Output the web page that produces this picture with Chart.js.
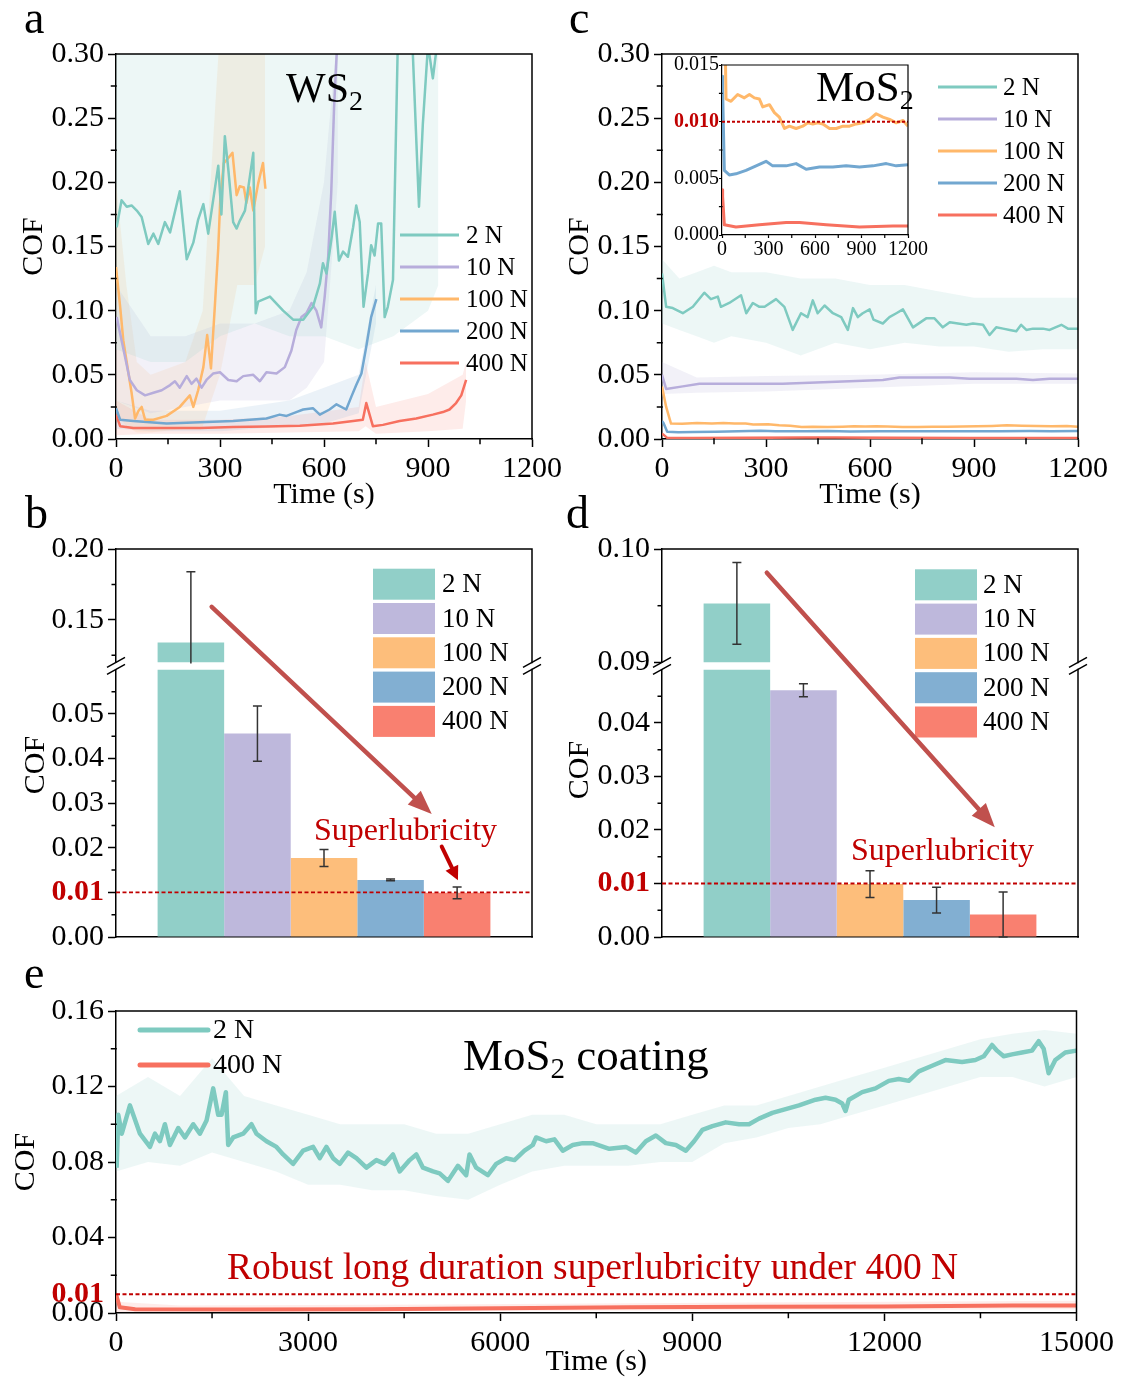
<!DOCTYPE html>
<html><head><meta charset="utf-8">
<script src="https://cdn.jsdelivr.net/npm/chart.js@4.4.1/dist/chart.umd.min.js"></script>
<style>
html,body{margin:0;padding:0;background:#fff;}
#fig{position:relative;width:1126px;height:1383px;overflow:hidden;font-family:'Liberation Serif','Times New Roman',Times,serif;background:#fff;}
canvas{position:absolute;}
.txt{position:absolute;white-space:nowrap;line-height:1;color:#000;}
.red{color:#c00000;}
.sub{position:relative;vertical-align:baseline;line-height:1;}
</style></head><body><div id="fig">
<canvas id="ca" width="572" height="487" style="left:0px;top:32px"></canvas>
<canvas id="cc" width="572" height="487" style="left:546px;top:32px"></canvas>
<canvas id="ci" width="266" height="212" style="left:667px;top:51px"></canvas>
<canvas id="cb" width="552" height="440" style="left:0px;top:527px"></canvas>
<canvas id="cd" width="552" height="440" style="left:546px;top:527px"></canvas>
<canvas id="ce" width="1118" height="394" style="left:0px;top:989px"></canvas>

<div class="txt" style="left:24px;top:-5px;font-size:46px">a</div>
<div class="txt" style="left:25px;top:490px;font-size:46px">b</div>
<div class="txt" style="left:569px;top:-5px;font-size:46px">c</div>
<div class="txt" style="left:566px;top:490px;font-size:46px">d</div>
<div class="txt" style="left:24px;top:950px;font-size:46px">e</div>
<div class="txt" style="left:286px;top:67px;font-size:42px">WS<span class="sub" style="font-size:28px;top:8px">2</span></div>
<div class="txt" style="left:816px;top:65px;font-size:43px">MoS<span class="sub" style="font-size:28px;top:8px">2</span></div>
<div class="txt" style="left:463px;top:1033px;font-size:45px">MoS<span class="sub" style="font-size:29px;top:8px">2</span> coating</div>
<div class="txt red" style="left:314px;top:813px;font-size:32px">Superlubricity</div>
<div class="txt red" style="left:851px;top:833px;font-size:32px">Superlubricity</div>
<div class="txt red" style="left:227px;top:1248px;font-size:37.5px">Robust long duration superlubricity under 400 N</div>
</div>
<script>
// ================= DATA =================
const loads = ['2 N','10 N','100 N','200 N','400 N'];
const superLimit = 0.01;

// (a) WS2 friction curves
const aT_2N = [2,16,31,45,60,74,93,108,122,141,156,184,204,223,237,252,266,295,304,314,324,338,348,357,372,396,403,410,444,482,511,540,568,588,597,607,621,631,643,655,669,684,693,703,714,727,736,746,756,765,775,784,799,813,837,856,874,885,900,914,925];
const aY_2N = [0.165,0.186,0.181,0.182,0.178,0.173,0.152,0.160,0.152,0.169,0.161,0.193,0.140,0.153,0.171,0.183,0.160,0.213,0.175,0.236,0.210,0.169,0.164,0.170,0.178,0.223,0.098,0.107,0.111,0.100,0.093,0.093,0.103,0.121,0.137,0.129,0.155,0.177,0.139,0.146,0.142,0.165,0.182,0.169,0.103,0.129,0.151,0.143,0.168,0.168,0.095,0.103,0.124,0.310,0.336,0.302,0.181,0.245,0.307,0.281,0.305];
const aT_10N = [2,12,26,40,60,84,108,132,156,170,184,204,218,232,247,261,280,300,324,348,367,396,415,434,463,487,506,520,535,549,564,578,592,602,612,621,629,636,643];
const aY_10N = [0.095,0.082,0.064,0.046,0.038,0.034,0.036,0.038,0.042,0.045,0.040,0.049,0.043,0.047,0.040,0.046,0.051,0.052,0.046,0.045,0.049,0.050,0.045,0.052,0.051,0.056,0.069,0.085,0.095,0.098,0.106,0.100,0.087,0.111,0.142,0.193,0.258,0.297,0.325];
const aT_100N = [0,12,21,36,45,55,65,74,84,108,146,184,213,223,237,252,263,274,285,295,301,311,324,336,348,357,369,376,386,396,410,424,431];
const aY_100N = [0.134,0.103,0.077,0.051,0.036,0.016,0.022,0.025,0.015,0.015,0.018,0.025,0.034,0.025,0.038,0.056,0.081,0.055,0.103,0.149,0.188,0.215,0.219,0.223,0.190,0.197,0.196,0.184,0.196,0.178,0.199,0.215,0.195];
const aT_200N = [0,12,50,146,242,338,386,434,472,492,520,540,568,588,616,636,664,679,693,708,722,736,751];
const aY_200N = [0.024,0.015,0.014,0.012,0.013,0.014,0.015,0.016,0.019,0.018,0.021,0.023,0.024,0.019,0.023,0.027,0.023,0.033,0.042,0.051,0.072,0.095,0.109];
const aT_400N = [0,12,50,146,242,338,434,530,626,684,712,722,741,770,818,866,914,943,962,981,996,1010];
const aY_400N = [0.019,0.010,0.0085,0.0085,0.0085,0.0093,0.0098,0.0103,0.012,0.014,0.015,0.028,0.010,0.011,0.014,0.016,0.019,0.021,0.023,0.028,0.034,0.046];
// (a) raw-data envelopes
const aBandT_2N = [0,100,200,300,400,500,600,700,800,900,930];
const aBandHi_2N = [0.32,0.32,0.32,0.32,0.32,0.32,0.32,0.32,0.32,0.32,0.32];
const aBandLo_2N = [0.07,0.06,0.06,0.08,0.09,0.08,0.08,0.07,0.08,0.10,0.12];
const aBandT_10N = [0,100,200,300,400,500,550,600,640];
const aBandHi_10N = [0.12,0.08,0.08,0.09,0.09,0.10,0.13,0.20,0.32];
const aBandLo_10N = [0.03,0.02,0.025,0.03,0.03,0.03,0.04,0.06,0.20];
const aBandT_100N = [0,30,60,100,200,250,300,350,400,430];
const aBandHi_100N = [0.20,0.12,0.06,0.05,0.06,0.10,0.32,0.32,0.32,0.32];
const aBandLo_100N = [0.02,0.01,0.005,0.005,0.008,0.01,0.05,0.12,0.12,0.15];
const aBandT_200N = [0,100,300,500,600,700,750];
const aBandHi_200N = [0.03,0.022,0.022,0.03,0.04,0.05,0.12];
const aBandLo_200N = [0.008,0.006,0.006,0.01,0.012,0.02,0.09];
const aBandT_400N = [0,100,300,500,700,720,750,900,1000,1010];
const aBandHi_400N = [0.03,0.015,0.015,0.018,0.025,0.06,0.025,0.035,0.05,0.06];
const aBandLo_400N = [0.003,0.004,0.004,0.005,0.006,0.01,0.004,0.006,0.008,0.03];

// (c) MoS2 friction curves (main plot and inset share these)
const cT_2N = [0,12,31,60,89,122,141,161,170,194,228,243,262,281,296,329,353,377,401,420,435,449,469,493,517,536,551,565,579,599,610,637,656,676,695,724,762,786,810,830,854,878,897,926,945,964,984,1003,1022,1036,1051,1070,1099,1118,1152,1171,1200];
const cY_2N = [0.129,0.103,0.102,0.098,0.103,0.114,0.109,0.111,0.103,0.106,0.112,0.098,0.106,0.103,0.103,0.109,0.103,0.085,0.098,0.095,0.108,0.098,0.104,0.098,0.095,0.085,0.102,0.095,0.098,0.101,0.093,0.090,0.095,0.098,0.101,0.087,0.094,0.094,0.087,0.091,0.090,0.089,0.090,0.089,0.081,0.087,0.086,0.085,0.084,0.089,0.085,0.086,0.086,0.085,0.089,0.086,0.086];
const cT_10N = [0,12,60,108,156,252,348,445,541,637,685,733,830,887,926,974,1022,1070,1118,1200];
const cY_10N = [0.050,0.039,0.041,0.043,0.043,0.043,0.043,0.044,0.045,0.046,0.048,0.048,0.048,0.047,0.047,0.047,0.047,0.046,0.047,0.047];
const cT_100N = [0,12,26,58,101,144,177,209,241,263,306,338,370,403,435,478,521,554,586,618,650,694,737,780,823,866,909,952,995,1038,1081,1124,1168,1200];
const cY_100N = [0.041,0.025,0.0120,0.0118,0.0124,0.0121,0.0124,0.0121,0.0120,0.0113,0.0115,0.0108,0.0104,0.0094,0.0096,0.0094,0.0096,0.0099,0.0098,0.0099,0.0098,0.0094,0.0094,0.0096,0.0096,0.0098,0.0099,0.0102,0.0107,0.0104,0.0102,0.0099,0.0101,0.0096];
const cT_200N = [0,4,15,47,90,155,220,284,327,414,478,543,629,715,801,887,974,1060,1124,1200];
const cY_200N = [0.014,0.0127,0.0057,0.0053,0.0054,0.0057,0.0061,0.0065,0.0061,0.0061,0.0063,0.0058,0.0060,0.0060,0.0061,0.0060,0.0061,0.0063,0.0061,0.0062];
const cT_400N = [0,4,15,90,241,414,500,672,887,1103,1200];
const cY_400N = [0.004,0.0034,0.0009,0.0007,0.0009,0.0011,0.0011,0.0009,0.0007,0.0008,0.0008];
const cBandT_2N = [0,50,100,150,200,300,400,500,600,700,800,900,1000,1100,1200];
const cBandHi_2N = [0.14,0.125,0.13,0.135,0.13,0.13,0.125,0.125,0.12,0.12,0.115,0.11,0.11,0.11,0.11];
const cBandLo_2N = [0.09,0.085,0.08,0.075,0.08,0.075,0.065,0.075,0.07,0.075,0.072,0.072,0.068,0.07,0.07];
const cBandT_10N = [0,100,300,600,900,1200];
const cBandHi_10N = [0.06,0.048,0.049,0.05,0.052,0.051];
const cBandLo_10N = [0.035,0.036,0.037,0.04,0.043,0.043];

// (b) WS2 mean COF and (d) MoS2 mean COF with error
const wsMean = [0.134,0.0456,0.0177,0.0128,0.0099];
const wsErr  = [0.050,0.0062,0.0019,0.0002,0.0013];
const mosMean = [0.0952,0.0461,0.0099,0.0069,0.0042];
const mosErr  = [0.0036,0.0012,0.0025,0.0024,0.0042];

// (e) long-duration MoS2 coating
const eT_2N = [10,36,90,218,374,530,608,686,764,842,972,1076,1206,1310,1414,1518,1596,1648,1716,1752,1830,1986,2116,2194,2350,2506,2610,2766,2922,3078,3182,3286,3390,3494,3624,3754,3910,4066,4196,4326,4430,4586,4690,4794,4950,5054,5184,5340,5469,5521,5625,5807,5937,6093,6223,6379,6509,6561,6717,6847,6977,7133,7289,7443,7703,7963,8119,8275,8431,8587,8743,8899,9028,9158,9314,9522,9730,9886,10042,10250,10458,10666,10925,11081,11237,11341,11393,11445,11653,11861,12069,12225,12381,12537,12745,12953,13213,13421,13551,13681,13759,13863,13993,14149,14305,14409,14487,14565,14669,14825,15000];
const eY_2N = [0.077,0.105,0.095,0.110,0.095,0.088,0.095,0.091,0.100,0.089,0.098,0.093,0.100,0.095,0.102,0.119,0.105,0.105,0.117,0.089,0.093,0.095,0.100,0.095,0.091,0.088,0.084,0.079,0.086,0.088,0.082,0.088,0.082,0.079,0.085,0.082,0.077,0.081,0.079,0.084,0.075,0.081,0.084,0.077,0.075,0.074,0.070,0.078,0.073,0.084,0.077,0.073,0.079,0.082,0.081,0.086,0.089,0.093,0.091,0.092,0.086,0.089,0.090,0.090,0.087,0.088,0.085,0.091,0.094,0.090,0.089,0.086,0.091,0.097,0.099,0.101,0.100,0.100,0.103,0.106,0.108,0.110,0.113,0.114,0.113,0.111,0.107,0.113,0.117,0.119,0.123,0.124,0.123,0.128,0.131,0.134,0.133,0.134,0.136,0.142,0.139,0.136,0.137,0.138,0.139,0.144,0.140,0.127,0.134,0.138,0.139];
const eT_400N = [0,60,300,2000,4000,6000,8000,10000,12000,14000,15000];
const eY_400N = [0.010,0.003,0.002,0.0018,0.002,0.0025,0.003,0.0033,0.0035,0.004,0.004];
const eBandT_2N = [0,500,1000,1500,2000,2500,3000,3500,4000,4500,5000,5500,6000,6500,7000,7500,8000,8500,9000,9500,10000,10500,11000,11500,12000,12500,13000,13500,14000,14500,15000];
const eBandHi_2N = [0.115,0.125,0.115,0.135,0.115,0.11,0.105,0.10,0.10,0.10,0.095,0.095,0.10,0.105,0.105,0.10,0.10,0.10,0.105,0.11,0.11,0.115,0.12,0.125,0.13,0.135,0.14,0.145,0.148,0.15,0.148];
const eBandLo_2N = [0.075,0.08,0.078,0.085,0.08,0.075,0.068,0.068,0.065,0.065,0.062,0.06,0.068,0.075,0.078,0.078,0.078,0.08,0.08,0.09,0.093,0.098,0.1,0.105,0.11,0.115,0.12,0.125,0.125,0.12,0.125];
const eBandT_400N = [0,1000,5000,10000,15000];
const eBandHi_400N = [0.006,0.004,0.0045,0.0055,0.0065];
const eBandLo_400N = [0.0005,0.0005,0.001,0.0015,0.002];

// tick values
const tXTicks = [0,300,600,900,1200];
const tXMinor = [150,450,750,1050];
const aYTicks = [0,0.05,0.10,0.15,0.20,0.25,0.30];
const aYMinor = [0.025,0.075,0.125,0.175,0.225,0.275];
const insYTicks = [0,0.005,0.010,0.015];
const insYMinor = [0.0025,0.0075,0.0125];
const bLoTicks = [0,0.01,0.02,0.03,0.04,0.05];
const bLoMinor = [0.005,0.015,0.025,0.035,0.045,0.055];
const bHiTicks = [0.15,0.20];
const bHiMinor = [0.125,0.175];
const dLoTicks = [0,0.01,0.02,0.03,0.04];
const dLoMinor = [0.005,0.015,0.025,0.035,0.045];
const dHiTicks = [0.09,0.10];
const dHiMinor = [0.095];
const eXTicks = [0,3000,6000,9000,12000,15000];
const eXMinor = [1500,4500,7500,10500,13500];
const eYTicks = [0,0.01,0.04,0.08,0.12,0.16];
const eYMinor = [0.02,0.06,0.10,0.14];

// ================= STYLE / HELPERS =================
const FONT = "'Liberation Serif','Times New Roman',Times,serif";
Chart.defaults.font.family = FONT;
Chart.defaults.color = '#000';
Chart.defaults.animation = false;
const RED = '#c00000';
const lineCol = ['#7ecac0','#b7addb','#ffb86a','#72a7d0','#f7705f'];
const bandCol = ['rgba(142,207,201,0.16)','rgba(190,184,220,0.2)','rgba(255,190,122,0.17)','rgba(130,176,210,0.16)','rgba(250,127,111,0.15)'];
const barCol = ['#91cfc8','#beb8dc','#fdbe7b','#82afd2','#f98070'];
const isRef = v => Math.abs(v - superLimit) < 1e-9;
const f2 = v => v.toFixed(2), f3 = v => v.toFixed(3), fi = v => String(v);

function linAxis(o) {
  return {
    type:'linear', position:o.pos, min:o.min, max:o.max, bounds:'data',
    afterBuildTicks: s => { s.ticks = o.ticks.map(v => ({value:v})); },
    afterFit: s => { if (o.pos === 'left') s.width = o.size; else s.height = o.size; },
    ticks: {
      autoSkip:false, maxRotation:0, padding:(o.pad !== undefined ? o.pad : 4), callback:o.fmt,
      font: o.refBold ? (c => ({size:o.fs, weight:(c.tick && isRef(c.tick.value)) ? 'bold' : 'normal'})) : {size:o.fs},
      color: o.refBold ? (c => (c.tick && isRef(c.tick.value)) ? RED : '#000') : '#000'
    },
    grid: {
      display:true, drawOnChartArea:false, drawTicks:true, tickLength:o.tl || 8, tickWidth:o.bw || 1.5,
      tickColor: o.hideRefTick ? (c => (c.tick && isRef(c.tick.value)) ? 'rgba(0,0,0,0)' : '#000') : '#000'
    },
    border: {display:true, color:'#000', width:o.bw || 1.5},
    title: o.title ? {display:true, text:o.title, color:'#000', font:{size:o.tfs || 30}, padding:o.tpad} : {display:false}
  };
}
function pts(T, Y) { return T.map((t, i) => ({x:t, y:Y[i]})); }
function lineDS(label, T, Y, color, w) {
  return {type:'line', label, data:pts(T, Y), borderColor:color, backgroundColor:color, borderWidth:w,
          pointRadius:0, tension:0, fill:false, borderJoinStyle:'round'};
}
function bandDS(T, Hi, Lo, color) {
  return [
    {type:'line', label:'', data:pts(T, Hi), borderWidth:0, borderColor:'rgba(0,0,0,0)', pointRadius:0, fill:'+1', backgroundColor:color, tension:0},
    {type:'line', label:'', data:pts(T, Lo), borderWidth:0, borderColor:'rgba(0,0,0,0)', pointRadius:0, fill:false, tension:0}
  ];
}

// ================= DECORATION PLUGIN =================
const DECO = {};
function drawArrow(ctx, x0, y0, x1, y1, color, lw, hl, hw) {
  const a = Math.atan2(y1 - y0, x1 - x0);
  const bx = x1 - hl * Math.cos(a), by = y1 - hl * Math.sin(a);
  ctx.save();
  ctx.strokeStyle = color; ctx.fillStyle = color; ctx.lineWidth = lw; ctx.lineCap = 'round';
  ctx.beginPath(); ctx.moveTo(x0, y0); ctx.lineTo(bx, by); ctx.stroke();
  ctx.beginPath(); ctx.moveTo(x1, y1);
  ctx.lineTo(bx + hw * Math.sin(a), by - hw * Math.cos(a));
  ctx.lineTo(bx - hw * Math.sin(a), by + hw * Math.cos(a));
  ctx.closePath(); ctx.fill();
  ctx.restore();
}
const decoPlugin = {
  id:'deco',
  beforeDatasetDraw(chart, args) {
    const o = DECO[chart.canvas.id]; if (!o || !o.clipByAxis) return;
    const ys = chart.scales[args.meta.yAxisID], ca = chart.chartArea, ctx = chart.ctx;
    ctx.save(); ctx.beginPath(); ctx.rect(ca.left, ys.top, ca.right - ca.left, ys.bottom - ys.top); ctx.clip();
  },
  afterDatasetDraw(chart) {
    const o = DECO[chart.canvas.id]; if (!o || !o.clipByAxis) return;
    chart.ctx.restore();
  },
  afterDatasetsDraw(chart) {
    const o = DECO[chart.canvas.id]; if (!o) return;
    const ctx = chart.ctx, ca = chart.chartArea;
    if (o.refLine) {
      const s = chart.scales[o.refLine.axis], y = s.getPixelForValue(o.refLine.value);
      ctx.save(); ctx.strokeStyle = RED; ctx.lineWidth = o.refLine.width; ctx.setLineDash(o.refLine.dash);
      ctx.beginPath(); ctx.moveTo(ca.left, y); ctx.lineTo(ca.right, y); ctx.stroke(); ctx.restore();
    }
    if (o.errorBars) {
      chart.data.datasets.forEach((ds, i) => {
        if (!ds.errors) return;
        const meta = chart.getDatasetMeta(i), ys = chart.scales[meta.yAxisID];
        ctx.save();
        ctx.beginPath(); ctx.rect(ca.left, ys.top - 1, ca.right - ca.left, ys.bottom - ys.top + 2); ctx.clip();
        ctx.strokeStyle = '#333'; ctx.lineWidth = 1.5;
        meta.data.forEach((bar, j) => {
          const v = ds.data[j], e = ds.errors[j], x = bar.x, hw = 4.5;
          const y1 = ys.getPixelForValue(v + e), y0 = ys.getPixelForValue(v - e);
          ctx.beginPath();
          ctx.moveTo(x, y0); ctx.lineTo(x, y1);
          ctx.moveTo(x - hw, y1); ctx.lineTo(x + hw, y1);
          ctx.moveTo(x - hw, y0); ctx.lineTo(x + hw, y0);
          ctx.stroke();
        });
        ctx.restore();
      });
    }
  },
  afterDraw(chart) {
    const o = DECO[chart.canvas.id]; if (!o) return;
    const ctx = chart.ctx, ca = chart.chartArea;
    ctx.save(); ctx.strokeStyle = '#000'; ctx.lineWidth = o.frameWidth || 1.5; ctx.lineCap = 'square';
    ctx.beginPath(); ctx.moveTo(ca.left, ca.top); ctx.lineTo(ca.right, ca.top);
    if (o.breakAxes) {
      o.breakAxes.forEach(id => { const s = chart.scales[id]; ctx.moveTo(ca.right, s.top); ctx.lineTo(ca.right, s.bottom); });
    } else { ctx.moveTo(ca.right, ca.top); ctx.lineTo(ca.right, ca.bottom); }
    ctx.stroke();
    if (o.breakAxes) {
      const hi = chart.scales[o.breakAxes[0]], lo = chart.scales[o.breakAxes[1]];
      const yc = (hi.bottom + lo.top) / 2;
      ctx.lineCap = 'butt'; ctx.lineWidth = 1.5;
      ctx.beginPath();
      [ca.left, ca.right].forEach(x => { [-3.5, 3.5].forEach(dy => { ctx.moveTo(x - 9, yc + dy + 5); ctx.lineTo(x + 9, yc + dy - 5); }); });
      ctx.stroke();
    }
    (o.minor || []).forEach(m => {
      const s = chart.scales[m.axis];
      ctx.lineWidth = m.w || 1.5; ctx.beginPath();
      m.values.forEach(v => {
        const p = s.getPixelForValue(v);
        if (s.isHorizontal()) { ctx.moveTo(p, ca.bottom); ctx.lineTo(p, ca.bottom + (m.len || 4.5)); }
        else { ctx.moveTo(ca.left - (m.len || 4.5), p); ctx.lineTo(ca.left, p); }
      });
      ctx.stroke();
    });
    ctx.restore();
    if (o.lineLegend) {
      const L = o.lineLegend;
      L.items.forEach((di, k) => {
        const ds = chart.data.datasets[di], y = ca.top + L.y + k * L.row;
        ctx.save();
        ctx.strokeStyle = ds.borderColor; ctx.lineWidth = L.lw; ctx.lineCap = L.cap || 'butt';
        ctx.beginPath(); ctx.moveTo(ca.left + L.x, y); ctx.lineTo(ca.left + L.x + L.len, y); ctx.stroke();
        ctx.fillStyle = '#000'; ctx.font = L.fs + 'px ' + FONT; ctx.textBaseline = 'middle'; ctx.textAlign = 'left';
        ctx.fillText(ds.label, ca.left + L.x + L.len + L.gap, y + 1);
        ctx.restore();
      });
    }
    if (o.boxLegend) {
      const B = o.boxLegend;
      B.items.forEach((di, k) => {
        const ds = chart.data.datasets[di], top = ca.top + B.y + k * B.row;
        ctx.save();
        ctx.fillStyle = ds.backgroundColor; ctx.fillRect(ca.left + B.x, top, B.w, B.h);
        ctx.fillStyle = '#000'; ctx.font = B.fs + 'px ' + FONT; ctx.textBaseline = 'middle'; ctx.textAlign = 'left';
        ctx.fillText(ds.label, ca.left + B.tx, top + B.h / 2 + 1);
        ctx.restore();
      });
    }
    (o.arrows || []).forEach(a => {
      drawArrow(ctx, ca.left + a.x0 * ca.width, ca.top + a.y0 * ca.height, ca.left + a.x1 * ca.width, ca.top + a.y1 * ca.height, a.color, a.lw, a.hl, a.hw);
    });
    if (o.vTitle) {
      const t = o.vTitle;
      ctx.save(); ctx.translate(t.x, t.y); ctx.rotate(-Math.PI / 2);
      ctx.fillStyle = '#000'; ctx.font = t.fs + 'px ' + FONT; ctx.textAlign = 'center'; ctx.textBaseline = 'middle';
      ctx.fillText(t.text, 0, 0); ctx.restore();
    }
  }
};
Chart.register(decoPlugin);

const baseOpts = (pad) => ({
  responsive:false, animation:false, events:[],
  layout:{padding:pad},
  plugins:{legend:{display:false}, tooltip:{enabled:false}}
});

// ================= (a) WS2 =================
DECO.ca = {
  minor:[{axis:'x', values:tXMinor}, {axis:'y', values:aYMinor}],
  lineLegend:{items:[0,1,2,3,4], x:284, y:181, row:32, len:59, lw:3, fs:25, gap:7}
};
new Chart(document.getElementById('ca'), {
  type:'line',
  data:{datasets:[
    lineDS(loads[0], aT_2N, aY_2N, lineCol[0], 2.5),
    lineDS(loads[1], aT_10N, aY_10N, lineCol[1], 2.5),
    lineDS(loads[2], aT_100N, aY_100N, lineCol[2], 2.5),
    lineDS(loads[3], aT_200N, aY_200N, lineCol[3], 2.5),
    lineDS(loads[4], aT_400N, aY_400N, lineCol[4], 2.5),
    ...bandDS(aBandT_2N, aBandHi_2N, aBandLo_2N, bandCol[0]),
    ...bandDS(aBandT_10N, aBandHi_10N, aBandLo_10N, bandCol[1]),
    ...bandDS(aBandT_100N, aBandHi_100N, aBandLo_100N, bandCol[2]),
    ...bandDS(aBandT_200N, aBandHi_200N, aBandLo_200N, bandCol[3]),
    ...bandDS(aBandT_400N, aBandHi_400N, aBandLo_400N, bandCol[4])
  ]},
  options:Object.assign(baseOpts({top:20, right:40, left:0, bottom:0}), {
    scales:{
      x: linAxis({pos:'bottom', min:0, max:1200, ticks:tXTicks, size:80, fs:30, fmt:fi, title:'Time (s)', tpad:{top:0, bottom:6}}),
      y: linAxis({pos:'left', min:0, max:0.30, ticks:aYTicks, size:116, fs:30, fmt:f2, title:'COF', tpad:{top:16, bottom:0}})
    }
  })
});

// ================= (c) MoS2 =================
DECO.cc = {
  minor:[{axis:'x', values:tXMinor}, {axis:'y', values:aYMinor}],
  lineLegend:{items:[0,1,2,3,4], x:276, y:33, row:32, len:59, lw:3, fs:25, gap:6}
};
new Chart(document.getElementById('cc'), {
  type:'line',
  data:{datasets:[
    lineDS(loads[0], cT_2N, cY_2N, lineCol[0], 2.5),
    lineDS(loads[1], cT_10N, cY_10N, lineCol[1], 2.5),
    lineDS(loads[2], cT_100N, cY_100N, lineCol[2], 2.5),
    lineDS(loads[3], cT_200N, cY_200N, lineCol[3], 2.5),
    lineDS(loads[4], cT_400N, cY_400N, lineCol[4], 2.5),
    ...bandDS(cBandT_2N, cBandHi_2N, cBandLo_2N, bandCol[0]),
    ...bandDS(cBandT_10N, cBandHi_10N, cBandLo_10N, bandCol[1])
  ]},
  options:Object.assign(baseOpts({top:20, right:40, left:0, bottom:0}), {
    scales:{
      x: linAxis({pos:'bottom', min:0, max:1200, ticks:tXTicks, size:80, fs:30, fmt:fi, title:'Time (s)', tpad:{top:0, bottom:6}}),
      y: linAxis({pos:'left', min:0, max:0.30, ticks:aYTicks, size:116, fs:30, fmt:f2, title:'COF', tpad:{top:16, bottom:0}})
    }
  })
});

// ================= (c) inset =================
DECO.ci = {
  frameWidth:1.2,
  minor:[{axis:'x', values:tXMinor, len:2.5, w:1.2}, {axis:'y', values:insYMinor, len:2.5, w:1.2}],
  refLine:{axis:'y', value:superLimit, width:2, dash:[3,2]}
};
new Chart(document.getElementById('ci'), {
  type:'line',
  data:{datasets:[
    lineDS(loads[0], cT_2N, cY_2N, lineCol[0], 3),
    lineDS(loads[1], cT_10N, cY_10N, lineCol[1], 3),
    lineDS(loads[2], cT_100N, cY_100N, lineCol[2], 3),
    lineDS(loads[3], cT_200N, cY_200N, lineCol[3], 3),
    lineDS(loads[4], cT_400N, cY_400N, lineCol[4], 3)
  ]},
  options:Object.assign(baseOpts({top:14, right:25, left:0, bottom:0}), {
    scales:{
      x: linAxis({pos:'bottom', min:0, max:1200, ticks:tXTicks, size:28, fs:20, tl:3, pad:0, bw:1.2, fmt:fi}),
      y: linAxis({pos:'left', min:0, max:0.015, ticks:insYTicks, size:55, fs:20, tl:3, pad:0, bw:1.2, fmt:f3, refBold:true})
    }
  })
});

// ================= bar panels (b) & (d) =================
function barChart(id, mean, err, loMax, loTicks, hiMin, hiMax, hiTicks) {
  const lower = loads.map((l, i) => ({label:l, data:[mean[i]], errors:[err[i]], backgroundColor:barCol[i], yAxisID:'yLo', stack:'s' + i, categoryPercentage:0.8, barPercentage:1, borderWidth:0}));
  const upper = loads.map((l, i) => ({label:l, data:[mean[i]], errors:[err[i]], backgroundColor:barCol[i], yAxisID:'yHi', stack:'s' + i, categoryPercentage:0.8, barPercentage:1, borderWidth:0}));
  const yLo = Object.assign(linAxis({pos:'left', min:0, max:loMax, ticks:loTicks, size:116, fs:30, fmt:f2, refBold:true}), {stack:'brk', stackWeight:269, stacked:false});
  const yGap = {type:'linear', position:'left', stack:'brk', stackWeight:7, ticks:{display:false}, grid:{display:false}, border:{display:false}, afterFit: s => { s.width = 116; }};
  const yHi = Object.assign(linAxis({pos:'left', min:hiMin, max:hiMax, ticks:hiTicks, size:116, fs:30, fmt:f2}), {stack:'brk', stackWeight:114, stacked:false});
  return new Chart(document.getElementById(id), {
    type:'bar',
    data:{labels:[''], datasets:[...lower, ...upper]},
    options:Object.assign(baseOpts({top:20, right:20, left:0, bottom:0}), {
      scales:{
        x:{type:'category', position:'bottom', ticks:{display:false}, grid:{display:false}, border:{display:true, color:'#000', width:1.5}, afterFit: s => { s.height = 30; }},
        yLo, yGap, yHi
      }
    })
  });
}
DECO.cb = {
  breakAxes:['yHi','yLo'], clipByAxis:true, errorBars:true,
  minor:[{axis:'yLo', values:bLoMinor}, {axis:'yHi', values:bHiMinor}],
  refLine:{axis:'yLo', value:superLimit, width:1.8, dash:[4,2.5]},
  boxLegend:{items:[0,1,2,3,4], x:257, y:19.7, w:62, h:31, row:34.3, fs:27, tx:326},
  arrows:[{x0:0.230, y0:0.149, x1:0.759, y1:0.683, color:'#c0504d', lw:4.5, hl:24, hw:9.5},
          {x0:0.783, y0:0.767, x1:0.822, y1:0.854, color:RED, lw:4, hl:14, hw:7}],
  vTitle:{text:'COF', x:36, y:238, fs:30}
};
DECO.cd = {
  breakAxes:['yHi','yLo'], clipByAxis:true, errorBars:true,
  minor:[{axis:'yLo', values:dLoMinor}, {axis:'yHi', values:dHiMinor}],
  refLine:{axis:'yLo', value:superLimit, width:1.8, dash:[4,2.5]},
  boxLegend:{items:[0,1,2,3,4], x:253, y:20.3, w:62, h:31, row:34.3, fs:27, tx:321},
  arrows:[{x0:0.252, y0:0.061, x1:0.800, y1:0.717, color:'#c0504d', lw:4.5, hl:24, hw:9.5}],
  vTitle:{text:'COF', x:34, y:243, fs:30}
};
barChart('cb', wsMean, wsErr, 0.06, bLoTicks, 0.12, 0.20, bHiTicks);
barChart('cd', mosMean, mosErr, 0.05, dLoTicks, 0.09, 0.10, dHiTicks);

// ================= (e) long duration =================
DECO.ce = {
  minor:[{axis:'x', values:eXMinor}, {axis:'y', values:eYMinor}],
  refLine:{axis:'y', value:superLimit, width:2, dash:[4,2.5]},
  lineLegend:{items:[0,1], x:24, y:19, row:35, len:68, lw:5, fs:28, gap:5, cap:'round'}
};
new Chart(document.getElementById('ce'), {
  type:'line',
  data:{datasets:[
    lineDS(loads[0], eT_2N, eY_2N, lineCol[0], 4.5),
    lineDS(loads[4], eT_400N, eY_400N, lineCol[4], 4),
    ...bandDS(eBandT_2N, eBandHi_2N, eBandLo_2N, bandCol[0]),
    ...bandDS(eBandT_400N, eBandHi_400N, eBandLo_400N, bandCol[4])
  ]},
  options:Object.assign(baseOpts({top:20, right:40, left:0, bottom:0}), {
    scales:{
      x: linAxis({pos:'bottom', min:0, max:15000, ticks:eXTicks, size:70, fs:30, fmt:fi, title:'Time (s)', tpad:{top:0, bottom:3}}),
      y: linAxis({pos:'left', min:0, max:0.16, ticks:eYTicks, size:116, fs:30, fmt:f2, refBold:true, hideRefTick:true, title:'COF', tpad:{top:8, bottom:0}})
    }
  })
});
</script>
</body></html>
